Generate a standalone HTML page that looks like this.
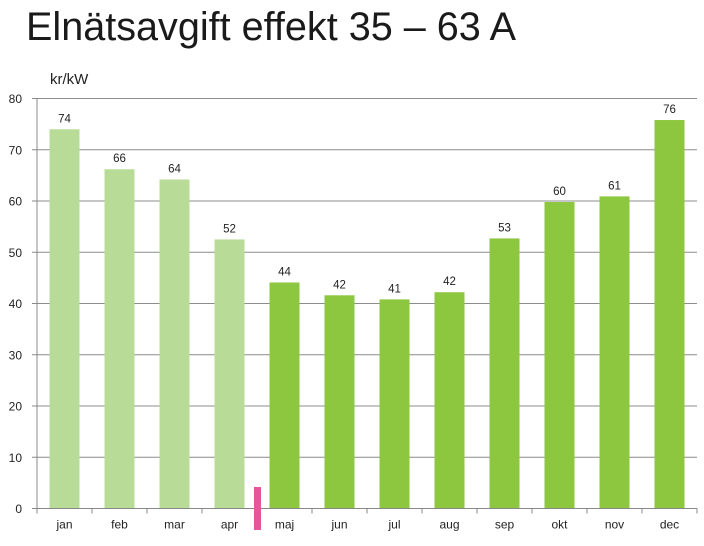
<!DOCTYPE html>
<html><head><meta charset="utf-8"><style>
html,body{margin:0;padding:0;background:#fff;}
svg{display:block;font-family:"Liberation Sans",sans-serif;}
</style></head><body>
<svg id="chart" width="704" height="546" viewBox="0 0 704 546">
<text x="26" y="40" font-family="Liberation Sans Narrow, Liberation Sans, sans-serif" font-size="40" fill="#1a1a1a" textLength="490" lengthAdjust="spacingAndGlyphs">Elnätsavgift effekt 35 – 63 A</text>
<text x="50" y="84" font-size="15" fill="#222">kr/kW</text>
<g id="grid"></g><g id="bars"></g><g id="axes"></g>
</svg>
<script>
const categories=["jan","feb","mar","apr","maj","jun","jul","aug","sep","okt","nov","dec"];
const values=[74,66.2,64.2,52.5,44.1,41.6,40.8,42.2,52.7,59.8,60.9,75.8];
const labels=["74","66","64","52","44","42","41","42","53","60","61","76"];
const yTicks=[0,10,20,30,40,50,60,70,80];
const NS="http://www.w3.org/2000/svg";
const x0=37,step=55,y0=508.5,yMax=80,plotTop=98.5,xEnd=697;
const ys=v=>y0-(v/yMax)*(y0-plotTop);
const xc=i=>x0+step*(i+0.5);
function mk(tag,attrs,parent,text){const e=document.createElementNS(NS,tag);for(const k in attrs)e.setAttribute(k,attrs[k]);if(text!=null)e.textContent=text;parent.appendChild(e);return e;}
const grid=document.getElementById('grid'),bars=document.getElementById('bars'),axes=document.getElementById('axes');
yTicks.forEach(t=>{
 const y=ys(t);
 if(t>0){const l=mk('line',{x1:x0,x2:xEnd,y1:y,y2:y,stroke:'#8c8c8c','stroke-width':1},grid);
 
 }
 const tk=mk('line',{x1:x0-5,x2:x0,y1:y,y2:y,stroke:'#888'},axes);
 
 
 const tx=mk('text',{x:22,y:y+4.5,'font-size':12,fill:'#222','text-anchor':'end'},axes,String(t));
 
 
});
categories.forEach((c,i)=>{
 const v=values[i];
 const r=mk('rect',{x:xc(i)-15,y:ys(v),width:30,height:y0-ys(v),fill:i<4?'#b8dc98':'#8dc63f'},bars);
 
 
 const vl=mk('text',{x:xc(i),y:ys(v)-7,'font-size':11.5,fill:'#222','text-anchor':'middle'},bars,labels[i]);
 
 
 const cl=mk('text',{x:xc(i),y:y0+20,'font-size':12,fill:'#222','text-anchor':'middle'},axes,c);
 
 
});
for(let i=0;i<=12;i++){
 const xt=mk('line',{x1:x0+step*i,x2:x0+step*i,y1:y0,y2:y0+5,stroke:'#888'},axes);
 
 
}
const ya=mk('line',{x1:x0,x2:x0,y1:plotTop,y2:y0,stroke:'#888'},axes);


const xa=mk('line',{x1:x0,x2:xEnd,y1:y0,y2:y0,stroke:'#888'},axes);


const pm=mk('rect',{x:254,y:487,width:7,height:43,fill:'#e8559a'},axes);


</script>
</body></html>
